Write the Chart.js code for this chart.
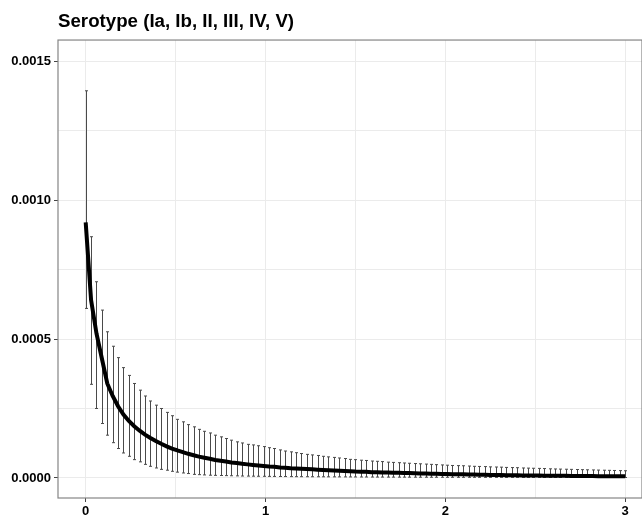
<!DOCTYPE html>
<html>
<head>
<meta charset="utf-8">
<script src="https://cdn.jsdelivr.net/npm/chart.js@4.4.1/dist/chart.umd.min.js"></script>
<style>
  html, body { margin: 0; padding: 0; background: #fff; }
  #wrap { width: 642px; height: 516px; }
</style>
</head>
<body>
<div id="wrap"><canvas id="serotypeChart"></canvas></div>
<script>
// Chart data
const titleText = 'Serotype (Ia, Ib, II, III, IV, V)';

const doses = [
    0, 0.03, 0.06, 0.09, 0.12, 0.15, 0.18, 0.21, 0.24, 0.27,
    0.3, 0.33, 0.36, 0.39, 0.42, 0.45, 0.48, 0.51, 0.54, 0.57,
    0.6, 0.63, 0.66, 0.69, 0.72, 0.75, 0.78, 0.81, 0.84, 0.87,
    0.9, 0.93, 0.96, 0.99, 1.02, 1.05, 1.08, 1.11, 1.14, 1.17,
    1.2, 1.23, 1.26, 1.29, 1.32, 1.35, 1.38, 1.41, 1.44, 1.47,
    1.5, 1.53, 1.56, 1.59, 1.62, 1.65, 1.68, 1.71, 1.74, 1.77,
    1.8, 1.83, 1.86, 1.89, 1.92, 1.95, 1.98, 2.01, 2.04, 2.07,
    2.1, 2.13, 2.16, 2.19, 2.22, 2.25, 2.28, 2.31, 2.34, 2.37,
    2.4, 2.43, 2.46, 2.49, 2.52, 2.55, 2.58, 2.61, 2.64, 2.67,
    2.7, 2.73, 2.76, 2.79, 2.82, 2.85, 2.88, 2.91, 2.94, 2.97,
    3
];

const fitted = [
    920e-6, 640e-6, 520e-6, 430e-6, 340e-6, 295e-6, 258e-6, 228e-6, 205e-6, 186e-6,
    170e-6, 156e-6, 144e-6, 133e-6, 123e-6, 114e-6, 106e-6, 99e-6, 93e-6, 87e-6,
    82e-6, 77e-6, 73e-6, 69e-6, 65e-6, 62e-6, 59e-6, 56e-6, 54e-6, 51e-6,
    49e-6, 47e-6, 45e-6, 43e-6, 41e-6, 40e-6, 38e-6, 37e-6, 35e-6, 34e-6,
    33e-6, 32e-6, 31e-6, 30e-6, 29e-6, 28e-6, 27e-6, 26e-6, 25e-6, 24e-6,
    23e-6, 22.5e-6, 22e-6, 21e-6, 20.5e-6, 20e-6, 19.5e-6, 19e-6, 18.5e-6, 18e-6,
    17.5e-6, 17e-6, 16.5e-6, 16e-6, 15.5e-6, 15e-6, 14.5e-6, 14e-6, 13.7e-6, 13.3e-6,
    13e-6, 12.6e-6, 12.2e-6, 11.8e-6, 11.4e-6, 11e-6, 10.6e-6, 10.3e-6, 10e-6, 9.7e-6,
    9.5e-6, 9.3e-6, 9e-6, 8.8e-6, 8.6e-6, 8.4e-6, 8.2e-6, 8e-6, 7.8e-6, 7.6e-6,
    7.4e-6, 7.2e-6, 7e-6, 6.9e-6, 6.8e-6, 6.6e-6, 6.5e-6, 6.4e-6, 6.3e-6, 6.1e-6,
    6e-6
];

const upper = [
    1393e-6, 868e-6, 706e-6, 604e-6, 526e-6, 474e-6, 433e-6, 397e-6, 369e-6, 340e-6,
    316e-6, 295e-6, 277e-6, 262e-6, 250e-6, 236e-6, 224e-6, 211e-6, 202e-6, 192e-6,
    184e-6, 175e-6, 168e-6, 162e-6, 154e-6, 148e-6, 142e-6, 136e-6, 130e-6, 126e-6,
    121e-6, 119e-6, 116e-6, 113e-6, 109e-6, 106e-6, 101e-6, 97e-6, 94e-6, 91e-6,
    88e-6, 85e-6, 83e-6, 81e-6, 78e-6, 76e-6, 74e-6, 72e-6, 70e-6, 67e-6,
    66e-6, 64e-6, 63e-6, 61e-6, 60e-6, 59e-6, 57e-6, 56e-6, 55e-6, 54e-6,
    53e-6, 52e-6, 51e-6, 50e-6, 49e-6, 48e-6, 47e-6, 46e-6, 45e-6, 44.5e-6,
    44e-6, 43e-6, 42e-6, 41.5e-6, 41e-6, 40e-6, 39.5e-6, 39e-6, 38e-6, 37.5e-6,
    37e-6, 36e-6, 35.5e-6, 35e-6, 34.5e-6, 34e-6, 33e-6, 32.5e-6, 32e-6, 31.5e-6,
    31e-6, 30.5e-6, 30e-6, 29.5e-6, 29e-6, 28.5e-6, 28e-6, 27.5e-6, 27e-6, 26.5e-6,
    26e-6
];

const lower = [
    610e-6, 337e-6, 250e-6, 196e-6, 154e-6, 127e-6, 106e-6, 90e-6, 78e-6, 66e-6,
    58e-6, 49e-6, 42e-6, 36e-6, 31e-6, 28e-6, 24e-6, 21e-6, 18e-6, 16e-6,
    13e-6, 12e-6, 11e-6, 10e-6, 9.5e-6, 9e-6, 8.5e-6, 8e-6, 7.5e-6, 7e-6,
    6.8e-6, 6.5e-6, 6.2e-6, 6e-6, 5.8e-6, 5.6e-6, 5.4e-6, 5.2e-6, 5e-6, 4.8e-6,
    4.7e-6, 4.6e-6, 4.5e-6, 4.4e-6, 4.3e-6, 4.2e-6, 4.1e-6, 4e-6, 3.9e-6, 3.8e-6,
    3.7e-6, 3.6e-6, 3.5e-6, 3.4e-6, 3.3e-6, 3.3e-6, 3.2e-6, 3.1e-6, 3e-6, 3e-6,
    2.9e-6, 2.9e-6, 2.8e-6, 2.8e-6, 2.7e-6, 2.7e-6, 2.6e-6, 2.6e-6, 2.5e-6, 2.5e-6,
    2.4e-6, 2.4e-6, 2.4e-6, 2.3e-6, 2.3e-6, 2.3e-6, 2.2e-6, 2.2e-6, 2.2e-6, 2.1e-6,
    2.1e-6, 2.1e-6, 2e-6, 2e-6, 2e-6, 2e-6, 1.9e-6, 1.9e-6, 1.9e-6, 1.9e-6,
    1.9e-6, 1.8e-6, 1.8e-6, 1.8e-6, 1.8e-6, 1.8e-6, 1.7e-6, 1.7e-6, 1.7e-6, 1.7e-6,
    1.7e-6
];

const xTickLabels = ['0', '1', '2', '3'];
const yTickLabels = ['0.0000', '0.0005', '0.0010', '0.0015'];

Chart.defaults.font.family = "'Liberation Sans', Arial, sans-serif";

// helpers: major ticks are the labelled ones, the rest are ggplot-style minor grid lines
const isWhole = (v, step) => Math.abs(v / step - Math.round(v / step)) < 1e-6;
const xMajor = v => isWhole(v, 1);
const yMajor = v => isWhole(v, 0.0005);

// error bars + panel border
const errorBarPlugin = {
    id: 'errorBars',
    beforeDatasetsDraw(chart) {
        const { ctx, chartArea, scales: { x, y } } = chart;
        ctx.save();
        ctx.beginPath();
        ctx.rect(chartArea.left, chartArea.top, chartArea.width, chartArea.height);
        ctx.clip();
        ctx.strokeStyle = '#4a4a4a';
        ctx.lineWidth = 1;
        doses.forEach((d, i) => {
            const px = Math.round(x.getPixelForValue(d)) + 0.5;
            const top = y.getPixelForValue(upper[i]);
            const bottom = y.getPixelForValue(lower[i]);
            ctx.beginPath();
            ctx.moveTo(px, top);
            ctx.lineTo(px, bottom);
            ctx.moveTo(px - 1.5, top);
            ctx.lineTo(px + 1.5, top);
            ctx.moveTo(px - 1.5, bottom);
            ctx.lineTo(px + 1.5, bottom);
            ctx.stroke();
        });
        ctx.restore();
    },
    afterDraw(chart) {
        const { ctx, chartArea } = chart;
        ctx.save();
        ctx.strokeStyle = '#858585';
        ctx.lineWidth = 1.2;
        ctx.strokeRect(chartArea.left, chartArea.top, chartArea.width, chartArea.height);
        ctx.restore();
    }
};

const ctxSero = document.getElementById('serotypeChart').getContext('2d');
const serotypeChart = new Chart(ctxSero, {
    type: 'line',
    data: {
        datasets: [{
            label: titleText,
            data: doses.map((d, i) => ({ x: d, y: fitted[i] })),
            borderColor: '#000',
            borderWidth: 4,
            pointRadius: 0,
            tension: 0,
            fill: false
        }]
    },
    options: {
        responsive: true,
        maintainAspectRatio: false,
        animation: false,
        layout: { padding: { left: 0, right: 0, top: 0, bottom: 0 } },
        plugins: {
            legend: { display: false },
            tooltip: { enabled: false },
            title: {
                display: true,
                text: titleText,
                align: 'start',
                fullSize: false,
                color: '#000',
                font: { size: 18.7, weight: 'bold' },
                padding: { top: 11, bottom: 6.6 }
            }
        },
        scales: {
            x: {
                type: 'linear',
                min: -0.154,
                max: 3.094,
                afterFit: s => { s.height = 18; },
                border: { display: false },
                grid: {
                    color: '#ebebeb',
                    lineWidth: 1,
                    tickLength: 4,
                    tickColor: c => xMajor(c.tick.value) ? '#444' : 'rgba(0,0,0,0)'
                },
                ticks: {
                    stepSize: 0.5,
                    includeBounds: false,
                    autoSkip: false,
                    maxRotation: 0,
                    padding: 2,
                    color: '#000',
                    font: { size: 13, weight: 'bold' },
                    callback: v => xMajor(v) ? xTickLabels[Math.round(v)] : ''
                }
            },
            y: {
                type: 'linear',
                min: -0.000072,
                max: 0.0015756,
                afterFit: s => { s.width = 58; },
                border: { display: false },
                grid: {
                    color: '#ebebeb',
                    lineWidth: 1,
                    tickLength: 4,
                    tickColor: c => yMajor(c.tick.value) ? '#444' : 'rgba(0,0,0,0)'
                },
                ticks: {
                    stepSize: 0.00025,
                    includeBounds: false,
                    autoSkip: false,
                    padding: 3,
                    color: '#000',
                    font: { size: 13, weight: 'bold' },
                    callback: v => yMajor(v) ? yTickLabels[Math.round(v / 0.0005)] : ''
                }
            }
        }
    },
    plugins: [errorBarPlugin]
});
</script>
</body>
</html>
